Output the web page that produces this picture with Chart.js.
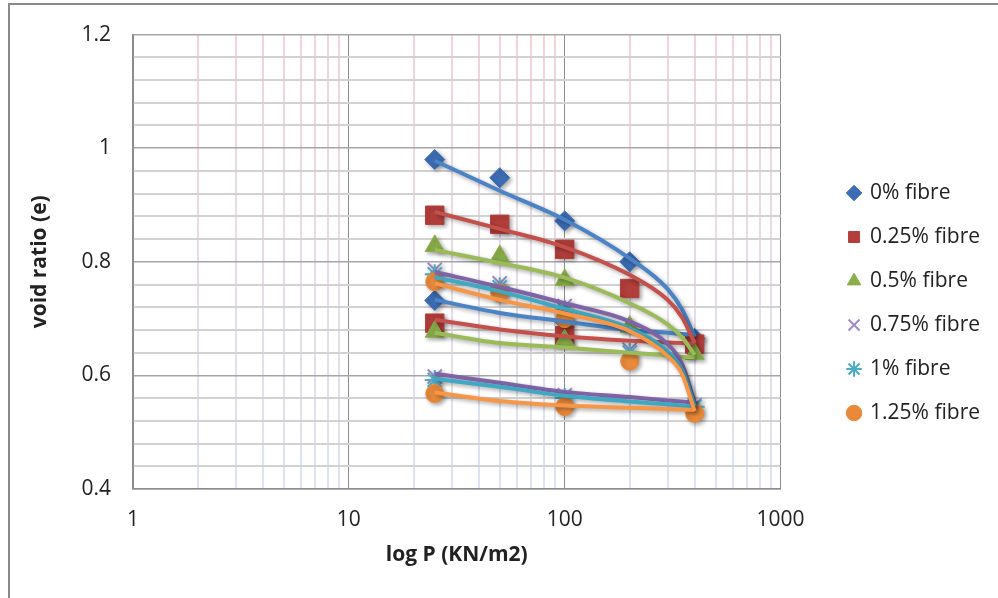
<!DOCTYPE html>
<html>
<head>
<meta charset="utf-8">
<script src="https://cdn.jsdelivr.net/npm/chart.js@4.4.1/dist/chart.umd.min.js"></script>
<style>
  body { margin: 0; background: #fff; }
  #wrap { position: relative; width: 998px; height: 598px; overflow: hidden; }
  #frame { position: absolute; left: 8px; top: 3px; width: 1000px; height: 600px;
           border-top: 2px solid #8a8a8a; border-left: 2px solid #8a8a8a; pointer-events: none; }
</style>
</head>
<body>
<div id="wrap">
  <canvas id="chart" width="998" height="598"></canvas>
  <div id="frame"></div>
</div>
<script>
// pressures (kN/m2)
const loadP = [25, 50, 100, 200, 400];
const unloadP = [100, 25];
const curveP = [25, 50, 100, 200, 300, 350, 400];

const fibreLabels = ['0% fibre', '0.25% fibre', '0.5% fibre', '0.75% fibre', '1% fibre', '1.25% fibre'];

// measured void ratios
const e0Load = [0.98, 0.948, 0.872, 0.80, 0.665];
const e0Unload = [0.695, 0.732];
const e025Load = [0.882, 0.866, 0.822, 0.753, 0.655];
const e025Unload = [0.670, 0.692];
const e05Load = [0.828, 0.81, 0.768, 0.686, 0.638];
const e05Unload = [0.662, 0.677];
const e075Load = [0.786, 0.762, 0.722, 0.645, 0.548];
const e075Unload = [0.565, 0.598];
const e1Load = [0.778, 0.755, 0.715, 0.64, 0.545];
const e1Unload = [0.56, 0.592];
const e125Load = [0.765, 0.745, 0.70, 0.625, 0.533];
const e125Unload = [0.545, 0.568];

// smoothed curves
const c0Load = [0.978, 0.925, 0.874, 0.806, 0.752, 0.716, 0.668];
const c025Load = [0.888, 0.858, 0.826, 0.777, 0.733, 0.702, 0.657];
const c05Load = [0.821, 0.798, 0.772, 0.727, 0.69, 0.667, 0.636];
const c075Load = [0.782, 0.756, 0.727, 0.695, 0.655, 0.62, 0.552];
const c1Load = [0.773, 0.748, 0.717, 0.683, 0.642, 0.61, 0.546];
const c125Load = [0.762, 0.733, 0.709, 0.678, 0.634, 0.602, 0.537];

const c0Unload = [0.733, 0.71, 0.695, 0.68, 0.675, 0.673, 0.672];
const c025Unload = [0.698, 0.681, 0.669, 0.661, 0.658, 0.657, 0.656];
const c05Unload = [0.675, 0.657, 0.649, 0.64, 0.635, 0.633, 0.632];
const c075Unload = [0.603, 0.587, 0.571, 0.562, 0.556, 0.554, 0.552];
const c1Unload = [0.594, 0.58, 0.564, 0.554, 0.549, 0.547, 0.545];
const c125Unload = [0.57, 0.555, 0.547, 0.543, 0.541, 0.54, 0.539];

const allLoad = [e0Load, e025Load, e05Load, e075Load, e1Load, e125Load];
const allUnload = [e0Unload, e025Unload, e05Unload, e075Unload, e1Unload, e125Unload];
const allCurveLoad = [c0Load, c025Load, c05Load, c075Load, c1Load, c125Load];
const allCurveUnload = [c0Unload, c025Unload, c05Unload, c075Unload, c1Unload, c125Unload];

const lineColors = ['#4a84c6', '#c4504c', '#9bbb59', '#8064a8', '#3fa9c3', '#f79646'];
const markerFill = ['#3c6db4', '#b33f3c', '#8aae4a', '#9e8ac4', '#4bacc6', '#e98a3b'];
const markerStyle = ['rectRot', 'rect', 'triangle', 'crossRot', 'star', 'circle'];
const markerSize = [10, 13, 11, 10, 10, 9];

const FONT = '"Open Sans", Lato, sans-serif';

const toPts = (xs, ys) => xs.map((x, i) => ({ x: x, y: ys[i] }));

const datasets = [];
fibreLabels.forEach((label, i) => {
    const isLine = markerStyle[i] === 'crossRot' || markerStyle[i] === 'star';
    datasets.push({
        label: label,
        data: toPts(loadP, allLoad[i]).concat(toPts(unloadP, allUnload[i])),
        showLine: false,
        pointStyle: markerStyle[i],
        pointRadius: markerSize[i],
        pointHoverRadius: markerSize[i],
        backgroundColor: markerFill[i],
        borderColor: markerFill[i],
        borderWidth: isLine ? 2 : 1,
        order: 50 - i
    });
});
fibreLabels.forEach((label, i) => {
    [allCurveLoad[i], allCurveUnload[i]].forEach(vals => {
        datasets.push({
            label: label + ' curve',
            data: toPts(curveP, vals),
            showLine: true,
            pointRadius: 0,
            borderColor: lineColors[i],
            borderWidth: 4,
            cubicInterpolationMode: 'monotone',
            order: 20 - i
        });
    });
});

const isDecade = v => Math.abs(Math.log10(v) - Math.round(Math.log10(v))) < 1e-9;
const isMajorY = v => Math.abs(v * 5 - Math.round(v * 5)) < 1e-6;

const shadowPlugin = {
    id: 'shadow',
    beforeDatasetsDraw(chart) {
        const ctx = chart.ctx;
        ctx.save();
        ctx.shadowColor = 'rgba(0,0,0,0.35)';
        ctx.shadowBlur = 4;
        ctx.shadowOffsetX = 2;
        ctx.shadowOffsetY = 2;
    },
    afterDatasetsDraw(chart) {
        chart.ctx.restore();
    }
};

// legend sits further right of the plot than chart.js leaves it
const legendShift = {
    id: 'legendShift',
    afterLayout(chart) {
        const lg = chart.legend;
        lg.left += 45; lg.right += 45;
        lg.top -= 12; lg.bottom -= 12;
    }
};

new Chart(document.getElementById('chart'), {
    type: 'scatter',
    data: { datasets: datasets },
    plugins: [shadowPlugin, legendShift],
    options: {
        responsive: false,
        animation: false,
        layout: { padding: { top: 32, right: 53, left: 0, bottom: 0 } },
        plugins: {
            tooltip: { enabled: false },
            legend: {
                position: 'right',
                labels: {
                    usePointStyle: true,
                    boxWidth: 11,
                    boxHeight: 11,
                    padding: 23,
                    color: '#222',
                    font: { family: FONT, size: 21 },
                    filter: item => item.datasetIndex < fibreLabels.length,
                    sort: (a, b) => a.datasetIndex - b.datasetIndex
                }
            }
        },
        scales: {
            x: {
                type: 'logarithmic',
                min: 1,
                max: 1000,
                afterBuildTicks: scale => {
                    const t = [];
                    for (let d = 1; d < 1000; d *= 10) {
                        for (let k = 1; k < 10; k++) t.push({ value: d * k });
                    }
                    t.push({ value: 1000 });
                    scale.ticks = t;
                },
                afterFit: scale => { scale.height = 109; },
                ticks: {
                    autoSkip: false,
                    maxRotation: 0,
                    padding: 18,
                    color: '#222',
                    font: { family: FONT, size: 21 },
                    callback: v => isDecade(v) ? String(v) : ''
                },
                grid: {
                    drawTicks: false,
                    color: ctx => {
                        const v = ctx.tick ? ctx.tick.value : 1;
                        if (isDecade(v)) return '#8c8c8c';
                        const area = ctx.chart.chartArea;
                        if (!area) return '#e8dce6';
                        const g = ctx.chart.ctx.createLinearGradient(0, area.top, 0, area.bottom);
                        g.addColorStop(0, '#f3d3d8');
                        g.addColorStop(1, '#dbe3f5');
                        return g;
                    },
                    lineWidth: ctx => (ctx.tick && isDecade(ctx.tick.value)) ? 1 : 2
                },
                border: { color: '#8c8c8c', width: 1.5 },
                title: {
                    display: true,
                    text: 'log P (KN/m2)',
                    color: '#222',
                    font: { family: FONT, size: 21, weight: 'bold' },
                    padding: { top: 0, bottom: 30 }
                }
            },
            y: {
                min: 0.4,
                max: 1.2,
                afterBuildTicks: scale => {
                    const t = [];
                    for (let k = 0; k <= 20; k++) t.push({ value: Math.round((0.4 + k * 0.04) * 100) / 100 });
                    scale.ticks = t;
                },
                afterFit: scale => { scale.width = 133; },
                ticks: {
                    autoSkip: false,
                    padding: 22,
                    color: '#222',
                    font: { family: FONT, size: 21 },
                    callback: v => isMajorY(v) ? String(Number(v.toFixed(1))) : ''
                },
                grid: {
                    drawTicks: false,
                    color: ctx => (ctx.tick && isMajorY(ctx.tick.value)) ? '#a6a6a6' : '#d2d2d2',
                    lineWidth: ctx => (ctx.tick && isMajorY(ctx.tick.value)) ? 1.5 : 2
                },
                border: { color: '#8c8c8c', width: 1.5 },
                title: {
                    display: true,
                    text: 'void ratio (e)',
                    color: '#222',
                    font: { family: FONT, size: 21, weight: 'bold' },
                    padding: { top: 27, bottom: 0 }
                }
            }
        }
    }
});
</script>
</body>
</html>
